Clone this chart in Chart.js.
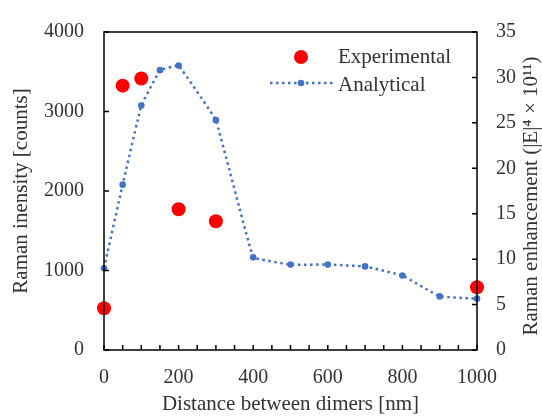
<!DOCTYPE html>
<html>
<head>
<meta charset="utf-8">
<script src="https://cdn.jsdelivr.net/npm/chart.js@4/dist/chart.umd.min.js"></script>
<style>
  html, body { margin: 0; padding: 0; background: #fff; }
</style>
</head>
<body>
<canvas id="chart" width="542" height="417"></canvas>
<script>
// analytical curve (right axis, |E|^4 x 10^11)
const distances = [0, 50, 100, 150, 200, 300, 400, 500, 600, 700, 800, 900, 1000];
const analytical = [9.0, 18.2, 26.9, 30.8, 31.3, 25.3, 10.2, 9.4, 9.4, 9.2, 8.2, 5.9, 5.65];

// experimental points (left axis, counts)
const expDistances = [0, 50, 100, 200, 300, 1000];
const experimental = [525, 3325, 3415, 1770, 1620, 790];

const xTicks = [0, 200, 400, 600, 800, 1000];
const leftTicks = [0, 1000, 2000, 3000, 4000];
const rightTicks = [0, 5, 10, 15, 20, 25, 30, 35];

const FONT = 'Liberation Serif, "Times New Roman", serif';
const TXT = '#333';

const frame = {
  id: 'frame',
  afterDraw(chart) {
    const ctx = chart.ctx;
    const a = chart.chartArea;
    const sx = chart.scales.x, sy = chart.scales.y, sy2 = chart.scales.y2;
    ctx.save();
    ctx.strokeStyle = '#000';
    ctx.lineWidth = 1.5;
    ctx.strokeRect(a.left, a.top, a.right - a.left, a.bottom - a.top);

    // inward tick marks
    ctx.beginPath();
    for (let v = 0; v <= 1000; v += 50) {
      const px = sx.getPixelForValue(v);
      ctx.moveTo(px, a.bottom); ctx.lineTo(px, a.bottom - 5);
    }
    leftTicks.forEach(v => {
      const py = sy.getPixelForValue(v);
      ctx.moveTo(a.left, py); ctx.lineTo(a.left + 5, py);
    });
    rightTicks.forEach(v => {
      const py = sy2.getPixelForValue(v);
      ctx.moveTo(a.right, py); ctx.lineTo(a.right - 5, py);
    });
    ctx.stroke();

    // legend
    ctx.fillStyle = '#ff0000';
    ctx.beginPath();
    ctx.arc(301, 57, 7, 0, Math.PI * 2);
    ctx.fill();
    ctx.strokeStyle = '#4472C4';
    ctx.lineWidth = 2.5;
    ctx.setLineDash([2.5, 3.5]);
    ctx.beginPath();
    ctx.moveTo(270, 83); ctx.lineTo(333, 83);
    ctx.stroke();
    ctx.setLineDash([]);
    ctx.fillStyle = '#4472C4';
    ctx.beginPath();
    ctx.arc(301, 83, 3.3, 0, Math.PI * 2);
    ctx.fill();
    ctx.fillStyle = TXT;
    ctx.font = '21px ' + FONT;
    ctx.textBaseline = 'middle';
    ctx.textAlign = 'left';
    ctx.fillText('Experimental', 338, 57);
    ctx.fillText('Analytical', 338, 85);

    // right axis title (reads bottom to top)
    ctx.translate(531, 196);
    ctx.rotate(-Math.PI / 2);
    ctx.textAlign = 'center';
    ctx.fillText('Raman enhancement (|E|\u2074 \u00d7 10\u00b9\u00b9)', 0, 0);
    ctx.restore();
  }
};

const plain = v => String(v);

new Chart(document.getElementById('chart'), {
  type: 'scatter',
  data: {
    datasets: [{
      label: 'Experimental',
      data: expDistances.map((x, i) => ({ x, y: experimental[i] })),
      yAxisID: 'y',
      pointRadius: 7,
      pointBackgroundColor: '#ff0000',
      pointBorderWidth: 0,
      showLine: false,
      clip: false,
      order: 0
    }, {
      label: 'Analytical',
      data: distances.map((x, i) => ({ x, y: analytical[i] })),
      yAxisID: 'y2',
      showLine: true,
      borderColor: '#4472C4',
      borderWidth: 2.5,
      borderDash: [2.5, 3.5],
      tension: 0.05,
      pointRadius: 3.3,
      pointBackgroundColor: '#4472C4',
      pointBorderWidth: 0,
      clip: false,
      order: 1
    }]
  },
  options: {
    responsive: false,
    animation: false,
    layout: { padding: { top: 24, right: 0, left: 0, bottom: 0 } },
    plugins: { legend: { display: false }, tooltip: { enabled: false } },
    scales: {
      x: {
        type: 'linear',
        min: 0, max: 1000,
        grid: { display: false, drawTicks: false },
        border: { display: false },
        afterBuildTicks: s => { s.ticks = xTicks.map(v => ({ value: v })); },
        afterFit: s => { s.height = 67; },
        ticks: { color: TXT, font: { family: FONT, size: 20 }, padding: 16, maxRotation: 0, callback: plain },
        title: { display: true, text: 'Distance between dimers [nm]', color: TXT,
                 font: { family: FONT, size: 21 }, padding: { top: -3, bottom: 0 } }
      },
      y: {
        position: 'left',
        min: 0, max: 4000,
        grid: { display: false, drawTicks: false },
        border: { display: false },
        afterBuildTicks: s => { s.ticks = leftTicks.map(v => ({ value: v })); },
        afterFit: s => { s.width = 104; },
        ticks: { color: TXT, font: { family: FONT, size: 20 }, padding: 20, callback: plain },
        title: { display: true, text: 'Raman inensity [counts]', color: TXT,
                 font: { family: FONT, size: 21 }, padding: { top: 9, bottom: 0 } }
      },
      y2: {
        position: 'right',
        min: 0, max: 35,
        grid: { display: false, drawTicks: false },
        border: { display: false },
        afterBuildTicks: s => { s.ticks = rightTicks.map(v => ({ value: v })); },
        afterFit: s => { s.width = 65; },
        ticks: { color: TXT, font: { family: FONT, size: 20 }, padding: 19, callback: plain }
      }
    }
  },
  plugins: [frame]
});
</script>
</body>
</html>
